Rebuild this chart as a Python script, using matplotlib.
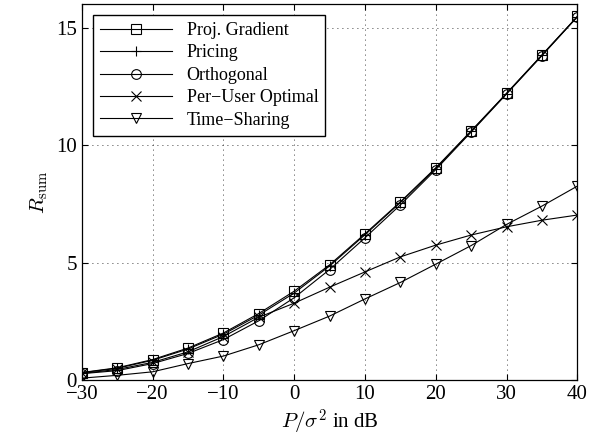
import matplotlib
matplotlib.use("Agg")
import matplotlib.pyplot as plt

# SNR in dB
snr_db = [-30, -25, -20, -15, -10, -5, 0, 5, 10, 15, 20, 25, 30, 35, 40]

# sum rates
proj_gradient = [0.32, 0.52, 0.87, 1.36, 2.0, 2.83, 3.78, 4.9, 6.22, 7.58, 9.03, 10.6, 12.2, 13.83, 15.47]
pricing = [0.31, 0.5, 0.84, 1.32, 1.95, 2.76, 3.7, 4.85, 6.18, 7.55, 9.0, 10.58, 12.19, 13.82, 15.46]
orthogonal = [0.27, 0.4, 0.7, 1.13, 1.72, 2.52, 3.5, 4.7, 6.05, 7.45, 8.95, 10.55, 12.17, 13.8, 15.45]
per_user = [0.28, 0.45, 0.75, 1.2, 1.85, 2.67, 3.27, 3.95, 4.6, 5.24, 5.74, 6.17, 6.52, 6.8, 7.02]
time_sharing = [0.08, 0.2, 0.35, 0.7, 1.02, 1.5, 2.1, 2.72, 3.45, 4.15, 4.93, 5.72, 6.62, 7.4, 8.25]

plt.rcParams['font.family'] = ['Liberation Serif', 'DejaVu Serif']
plt.rcParams['mathtext.fontset'] = 'cm'

fig = plt.figure(figsize=(5.97, 4.45), dpi=100)
ax = fig.add_axes([0.137, 0.146, 0.830, 0.845])

style = dict(color='black', linewidth=0.8, markersize=7, markerfacecolor='none',
             markeredgewidth=0.8)
ax.plot(snr_db, proj_gradient, marker='s', label='Proj. Gradient', **style)
ax.plot(snr_db, pricing, marker='+', label='Pricing', **style)
ax.plot(snr_db, orthogonal, marker='o', label='Orthogonal', **style)
ax.plot(snr_db, per_user, marker='x', label='Per\u2212User Optimal', **style)
ax.plot(snr_db, time_sharing, marker='v', label='Time\u2212Sharing', **style)

ax.set_xlim(-30, 40)
ax.set_ylim(0, 16)
ax.set_xticks([-30, -20, -10, 0, 10, 20, 30, 40])
ax.set_xticklabels(['\u221230', '\u221220', '\u221210', '0', '10', '20', '30', '40'])
ax.set_yticks([0, 5, 10, 15])
ax.tick_params(labelsize=15, direction='in', length=4, width=0.8, top=True, right=True)
ax.grid(True, color='black', linestyle=(0, (1, 5)), linewidth=0.6)
for s in ax.spines.values():
    s.set_linewidth(0.9)

ax.set_xlabel(r'$P/\sigma^2$ in dB', fontsize=15, labelpad=3)
ax.set_ylabel(r'$R_{\rm sum}$', fontsize=15, labelpad=4)

leg = ax.legend(loc='upper left', fontsize=13, handlelength=4, fancybox=False,
                framealpha=1, edgecolor='black', borderaxespad=0.6,
                labelspacing=0.3, borderpad=0.4)
leg.get_frame().set_linewidth(1.0)

fig.savefig('out.png', dpi=100)
